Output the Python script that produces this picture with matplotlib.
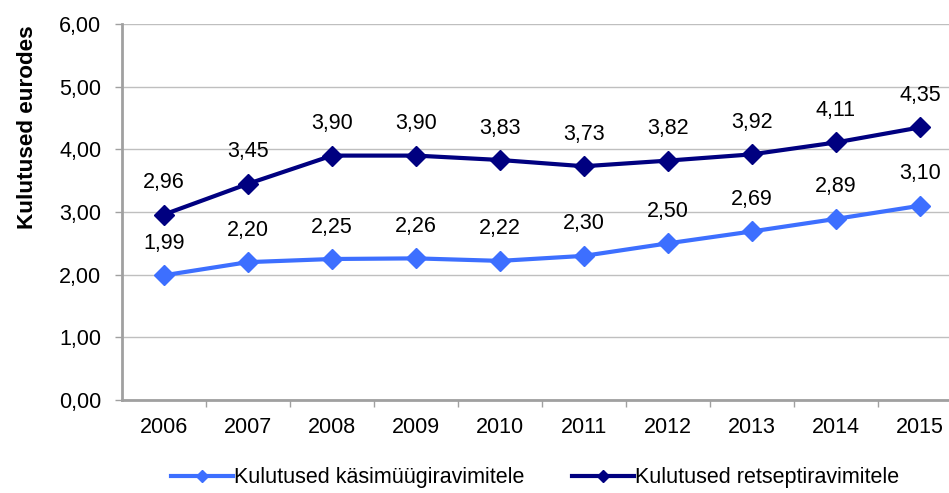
import matplotlib
matplotlib.use('Agg')
import matplotlib.pyplot as plt

plt.rcParams['font.family'] = ['Liberation Sans', 'DejaVu Sans']

years = ['2006', '2007', '2008', '2009', '2010', '2011', '2012', '2013', '2014', '2015']
kasimuugi = [1.99, 2.20, 2.25, 2.26, 2.22, 2.30, 2.50, 2.69, 2.89, 3.10]
retsepti = [2.96, 3.45, 3.90, 3.90, 3.83, 3.73, 3.82, 3.92, 4.11, 4.35]
yticks = [0, 1, 2, 3, 4, 5, 6]

light = '#3D6FFF'
dark = '#000080'
grid_col = '#BFBFBF'
axis_col = '#A0A0A0'
fs = 15.5

fig = plt.figure(figsize=(9.49, 4.93), dpi=100)
# plot area runs past the right edge of the picture, like the reference
ax = fig.add_axes([122 / 949, 1 - 400 / 493, 840 / 949, 376 / 493])

x = list(range(len(years)))
ax.plot(x, kasimuugi, color=light, lw=3, marker='D', ms=10,
        label='Kulutused käsimüügiravimitele', clip_on=False, zorder=3)
ax.plot(x, retsepti, color=dark, lw=3, marker='D', ms=10,
        label='Kulutused retseptiravimitele', clip_on=False, zorder=3)

# data labels above the points
for series in (kasimuugi, retsepti):
    for xi, v in zip(x, series):
        ax.annotate(f'{v:.2f}'.replace('.', ','), (xi, v), xytext=(0, 23),
                    textcoords='offset points', ha='center', va='center',
                    fontsize=fs, color='black')

ax.set_xlim(-0.5, len(years) - 0.5)
ax.set_ylim(0, 6)
ax.set_yticks(yticks)
ax.set_yticklabels([f'{t:.2f}'.replace('.', ',') for t in yticks], fontsize=fs)
ax.set_xticks(x)
ax.set_xticklabels(years, fontsize=fs)
ax.set_xticks([i + 0.5 for i in x[:-1]], minor=True)
ax.tick_params(axis='x', which='major', length=0, pad=12)
ax.tick_params(axis='x', which='minor', length=5, color=axis_col, width=1)
ax.tick_params(axis='y', length=5, color=axis_col, width=1, pad=10)

ax.grid(axis='y', color=grid_col, lw=1)
ax.set_axisbelow(True)
for side in ('top', 'right'):
    ax.spines[side].set_visible(False)
for side in ('left', 'bottom'):
    ax.spines[side].set_color(axis_col)
    ax.spines[side].set_linewidth(2)

fig.text(28 / 949, 1 - 127 / 493, 'Kulutused eurodes', rotation=90,
         ha='center', va='center', fontsize=16.2, fontweight='bold')

fig.legend(loc='center', bbox_to_anchor=(535 / 949, 1 - 478 / 493), ncol=2,
           frameon=False, fontsize=fs, handlelength=2.9, handletextpad=0.05,
           columnspacing=2.2, markerscale=0.65)

fig.savefig('out.png', dpi=100)
